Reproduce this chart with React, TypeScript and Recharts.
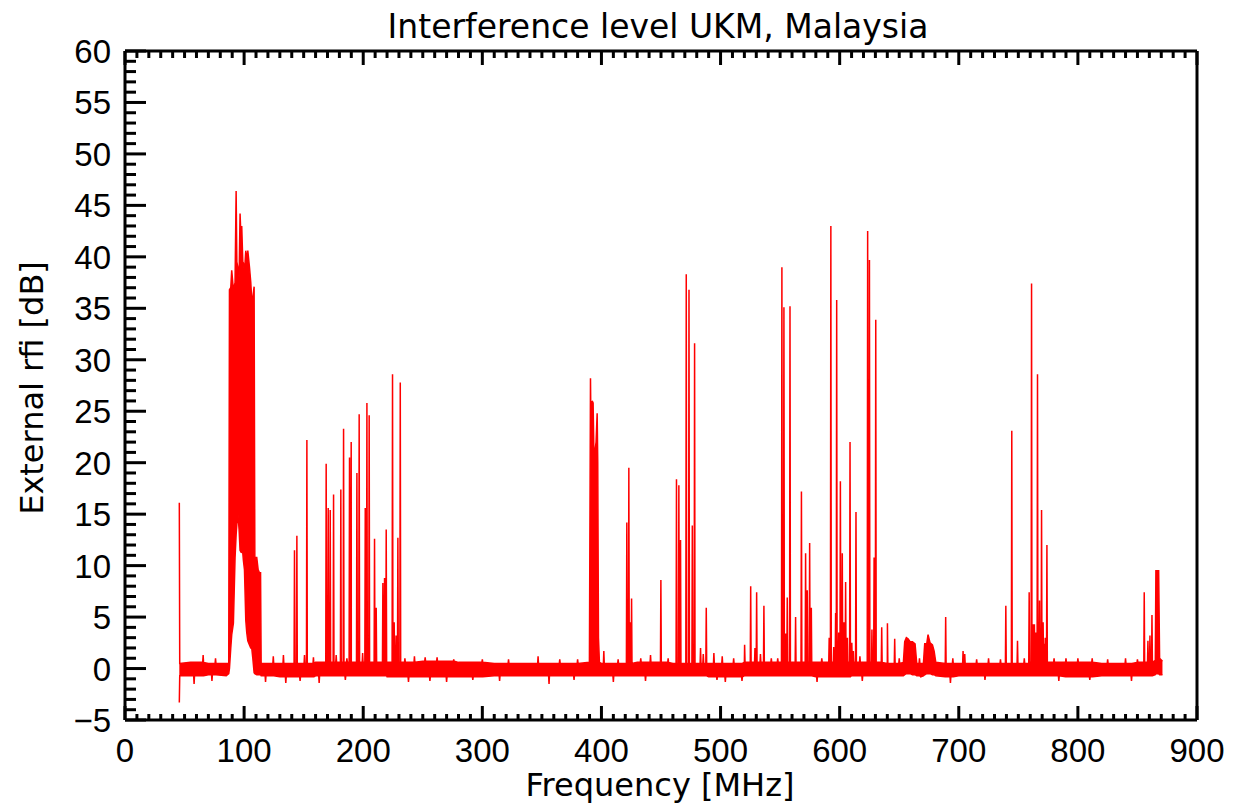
import React from "react";
import { AreaChart, Area, XAxis, YAxis } from "recharts";

// noise floor envelope (MHz, dB)
const floorFreq = [45.6, 55, 70, 85, 114.5, 130, 160, 190, 220, 250, 280, 310, 340, 370, 400, 430, 460, 490, 520, 550, 580, 610, 640, 668, 700, 730, 760, 790, 820, 850, 871];
const floorLow = [-0.7, -0.7, -0.6, -0.7, -0.7, -0.8, -0.7, -0.7, -0.8, -0.8, -0.8, -0.7, -0.7, -0.7, -0.7, -0.7, -0.7, -0.8, -0.7, -0.7, -0.8, -0.7, -0.7, -0.8, -0.7, -0.7, -0.7, -0.8, -0.7, -0.7, -0.6];
const floorHigh = [0.5, 0.6, 0.5, 0.5, 0.5, 0.5, 0.6, 0.6, 0.6, 0.7, 0.6, 0.5, 0.5, 0.5, 0.5, 0.6, 0.5, 0.5, 0.6, 0.6, 0.6, 0.6, 0.5, 0.5, 0.5, 0.5, 0.6, 0.6, 0.5, 0.6, 0.7];

// FM broadcast block
const fmFreq = [87.1, 87.7, 88.8, 89.6, 91.0, 92.4, 93.3, 93.9, 94.7, 95.8, 96.6, 97.5, 98.0, 98.9, 99.4, 100.3, 101.4, 102.2, 103.1, 104.5, 105.6, 106.4, 107.3, 108.4, 109.0, 110.6, 111.8, 112.9, 113.8, 114.3];
const fmLow = [-0.5, 0, 2, 3.3, 4.4, 10.8, 13, 14, 15.2, 13.5, 11.5, 11.3, 11.3, 11.2, 10.5, 9.6, 4.7, 3.5, 2.7, 2.3, 2, 2, 1, -0.4, -0.5, -0.6, -0.6, -0.6, -0.6, -0.7];
const fmHigh = [0.5, 36.8, 37, 38.7, 36.8, 37.5, 46.4, 39.5, 39, 38, 44.2, 41.5, 43, 39.5, 39.4, 38.5, 40.6, 39.5, 40.6, 39, 37.5, 35.8, 36, 37.1, 10.8, 10.8, 9.6, 9.3, 9.3, 0.5];

// cluster near 390 MHz
const uhfFreq = [389.9, 390.8, 391.3, 392.2, 393.0, 393.6, 394.7, 395.5, 396.4, 396.9, 397.5, 398.3];
const uhfLow = [-0.7, -0.7, -0.7, -0.7, -0.7, -0.7, -0.7, -0.7, -0.7, -0.7, -0.7, -0.7];
const uhfHigh = [0.6, 28.2, 22, 26.0, 25.8, 21.3, 21.3, 22, 24.8, 20, 3, 0.6];

// small raised blocks
const blkAFreq = [653.5, 654.6, 656.0, 657.4, 659.1, 661.1, 663.3, 664.7];
const blkALow = [-0.7, -0.6, -0.5, -0.5, -0.5, -0.6, -0.6, -0.7];
const blkAHigh = [0.6, 2.6, 3.0, 2.9, 2.6, 2.6, 2.4, 0.5];
const blkBFreq = [670.3, 671.4, 673.1, 674.2, 675.9, 677.9, 679.3, 680.7];
const blkBLow = [-0.7, -0.6, -0.5, -0.5, -0.5, -0.6, -0.6, -0.7];
const blkBHigh = [0.5, 2.4, 2.4, 3.3, 2.5, 2.3, 1.7, 0.6];
const blkCFreq = [865.0, 865.5, 867.0, 867.8, 868.6];
const blkCLow = [-0.6, -0.5, -0.5, -0.5, -0.6];
const blkCHigh = [0.8, 9.5, 9.5, 9.5, 1];

// narrow spikes
const spikeFreq = [45.6, 65.6, 76, 124.5, 133, 142.3, 144.3, 150.7, 152.7, 158.2, 168.9, 170.6, 172.3, 175.1, 177.3, 181.2, 183.5, 186.3, 188.5, 189.9, 194.7, 196.6, 199.5, 201.7, 203.1, 205, 209.5, 210.9, 216.5, 217.9, 219.3, 224.6, 226.0, 227.6, 229.1, 231.1, 235, 243, 252, 262, 276, 300, 322, 346.8, 365, 380, 402, 414, 421.3, 423, 424.3, 425.3, 433, 441.2, 449.9, 456, 463, 465, 466.4, 471.2, 473.5, 476.3, 478.2, 483.2, 485.5, 488, 494.4, 501.4, 511, 520.2, 525.3, 528.9, 530.3, 533.5, 536.4, 542.6, 548, 551.5, 553.2, 554.6, 556, 558.3, 563, 567.9, 571.4, 572.8, 574.8, 576.2, 585, 591.2, 592.6, 595.0, 596.6, 597.5, 599.2, 600.6, 602.2, 603.6, 605, 606.5, 608.7, 610.2, 611.5, 613.7, 617, 623.5, 625, 627.1, 628.9, 630.3, 635.3, 640.1, 646.2, 650, 667, 689, 695, 703.6, 705, 715, 725, 735, 739.5, 744.5, 749.3, 755, 759.1, 761.1, 762.5, 763.5, 764.7, 766.1, 767.8, 769.5, 770.8, 771.8, 772.6, 774, 780, 790, 800, 812, 825, 840, 850, 855.7, 858.8, 860.5, 862.2];
const spikePeak = [16.1, 1.3, 1.0, 1.2, 1.3, 11.5, 12.9, 1.3, 22.2, 1.1, 19.9, 15.6, 15.4, 16.9, 1.3, 17.4, 23.3, 1.0, 20.5, 22, 19, 24.7, 1.5, 15.6, 25.8, 24.6, 12.6, 5.9, 8.3, 8.8, 13.5, 28.6, 4.5, 3.2, 12.7, 27.8, 1.0, 1.2, 1.1, 1.1, 0.9, 0.9, 0.9, 1.2, 0.9, 0.9, 1.7, 0.9, 14.2, 19.5, 4.5, 6.8, 1.0, 1.3, 8.6, 1.0, 18.4, 17.8, 12.5, 38.3, 36.8, 13.9, 31.6, 2, 1.4, 5.9, 1.5, 1.2, 1.0, 2.3, 8.0, 2, 7.4, 1.4, 6.1, 1.0, 1.0, 39, 35.1, 3.4, 6.9, 35.2, 5, 17.2, 11.2, 7.6, 12.2, 5.9, 1.0, 3, 43, 2.1, 5.4, 35.8, 3.5, 18.2, 11.2, 4.5, 8.4, 3, 22, 2.5, 1.7, 15.2, 1.2, 42.5, 39.7, 3.8, 10.8, 33.9, 4, 4.4, 2.9, 1.0, 1.0, 5, 1.0, 1.7, 1.4, 0.9, 1.0, 0.9, 6.1, 23.1, 2.7, 1.0, 7.4, 37.4, 4.3, 4.3, 3.5, 28.6, 6.6, 15.4, 4.5, 2.4, 3, 12, 1.0, 1.0, 1.0, 1.0, 0.9, 1.0, 0.9, 7.4, 2.7, 3.2, 5.2];

// downward noise dips
const dipFreq = [45.6, 58, 73, 118, 135, 147, 163, 185, 238, 256, 270, 292, 314.5, 356, 377, 410, 437, 497, 504, 518, 581, 619, 693, 722, 784, 810, 845];
const dipLow = [-3.3, -1.5, -1.2, -1.3, -1.4, -1.2, -1.4, -1.1, -1.3, -1.2, -1.3, -1.1, -1.2, -1.5, -1.1, -1.3, -1.2, -1.1, -1.3, -1.2, -1.3, -1.2, -1.4, -1.1, -1.2, -1.1, -1.2];

const xTicks = Array.from({ length: 91 }, (_, i) => i * 10);
const yTicks = Array.from({ length: 66 }, (_, i) => i - 5);

const HALF = 0.35;
const bands: number[][][] = [
  [fmFreq, fmLow, fmHigh],
  [uhfFreq, uhfLow, uhfHigh],
  [blkAFreq, blkALow, blkAHigh],
  [blkBFreq, blkBLow, blkBHigh],
  [blkCFreq, blkCLow, blkCHigh],
];

function floorAt(f: number): [number, number] {
  let i = 0;
  while (i + 1 < floorFreq.length && floorFreq[i + 1] <= f) i++;
  return [floorLow[i], floorHigh[i]];
}

function buildRows() {
  const start = floorFreq[0];
  const end = floorFreq[floorFreq.length - 1];
  const inBand = (f: number) => bands.some(([fr]) => f >= fr[0] && f <= fr[fr.length - 1]);
  const events = new Map<number, [number, number]>();
  spikeFreq.forEach((f, i) => {
    const e = events.get(f) ?? floorAt(f);
    events.set(f, [e[0], spikePeak[i]]);
  });
  dipFreq.forEach((f, i) => {
    const e = events.get(f) ?? floorAt(f);
    events.set(f, [dipLow[i], e[1]]);
  });
  const rows: { f: number; env: [number, number] }[] = [];
  floorFreq.forEach((f, i) => {
    if (!inBand(f) && !events.has(f)) rows.push({ f, env: [floorLow[i], floorHigh[i]] });
  });
  bands.forEach(([fr, lo, hi]) => fr.forEach((f, i) => rows.push({ f, env: [lo[i], hi[i]] })));
  events.forEach((e, f) => {
    const fl = floorAt(f);
    if (f - HALF >= start) rows.push({ f: f - HALF, env: fl });
    rows.push({ f, env: e });
    if (f + HALF <= end) rows.push({ f: f + HALF, env: fl });
  });
  rows.sort((a, b) => a.f - b.f);
  return rows;
}

const data = buildRows();

const TICK_FONT = "'Liberation Sans', Arial, sans-serif";
const TITLE_FONT = "'DejaVu Sans', sans-serif";
const fmt = (v: number) => (v < 0 ? "\u2212" + Math.abs(v) : String(v));

function makeTick(side: "bottom" | "top" | "left" | "right", step: number, major: number, minor: number) {
  return (props: any) => {
    const { x, y, payload } = props;
    const v = payload.value as number;
    const isMajor = Math.abs(v / step - Math.round(v / step)) < 1e-6;
    const len = isMajor ? major : minor;
    let line;
    if (side === "bottom") line = <line x1={x} y1={y} x2={x} y2={y - len} />;
    else if (side === "top") line = <line x1={x} y1={y} x2={x} y2={y + len} />;
    else if (side === "left") line = <line x1={x} y1={y} x2={x + len} y2={y} />;
    else line = <line x1={x} y1={y} x2={x - len} y2={y} />;
    return (
      <g stroke="#000" strokeWidth={3}>
        {line}
        {isMajor && side === "bottom" && (
          <text x={x} y={y + 42} textAnchor="middle" stroke="none" fill="#000" fontSize={33} fontFamily={TICK_FONT}>
            {fmt(v)}
          </text>
        )}
        {isMajor && side === "left" && (
          <text x={x - 14} y={y + 12} textAnchor="end" stroke="none" fill="#000" fontSize={33} fontFamily={TICK_FONT}>
            {fmt(v)}
          </text>
        )}
      </g>
    );
  };
}

const axisLine = { stroke: "#000", strokeWidth: 3 };

export default function App() {
  return (
    <div style={{ position: "absolute", left: 0, top: 0, width: 1236, height: 809, background: "#fff" }}>
      <AreaChart width={1236} height={809} data={data} margin={{ top: 0, right: 0, bottom: 0, left: 0 }}>
        <XAxis dataKey="f" type="number" domain={[0, 900]} ticks={xTicks} interval={0} height={89}
          axisLine={axisLine} tickLine={false} tickSize={0} tickMargin={0} tick={makeTick("bottom", 100, 14, 6)} />
        <XAxis xAxisId="top" orientation="top" dataKey="f" type="number" domain={[0, 900]} ticks={xTicks} interval={0} height={51}
          axisLine={axisLine} tickLine={false} tickSize={0} tickMargin={0} tick={makeTick("top", 100, 14, 7)} />
        <YAxis type="number" domain={[-5, 60]} ticks={yTicks} interval={0} width={125} allowDataOverflow
          axisLine={axisLine} tickLine={false} tickSize={0} tickMargin={0} tick={makeTick("left", 5, 21, 11)} />
        <YAxis yAxisId="right" orientation="right" type="number" domain={[-5, 60]} ticks={yTicks} interval={0} width={39}
          axisLine={axisLine} tickLine={false} tickSize={0} tickMargin={0} tick={makeTick("right", 5, 21, 11)} />
        <Area dataKey="env" type="linear" stroke="#ff0000" strokeWidth={1.5} fill="#ff0000" fillOpacity={1}
          dot={false} activeDot={false} isAnimationActive={false} />
      </AreaChart>
      <div style={{ position: "absolute", left: 0, width: 1236, top: 8, textAlign: "center", paddingLeft: 80, boxSizing: "border-box",
        fontFamily: TITLE_FONT, fontSize: 33, lineHeight: "38px" }}>
        Interference level UKM, Malaysia
      </div>
      <div style={{ position: "absolute", left: 0, width: 1236, top: 766, textAlign: "center", paddingLeft: 84, boxSizing: "border-box",
        fontFamily: TITLE_FONT, fontSize: 32, lineHeight: "38px" }}>
        Frequency [MHz]
      </div>
      <div style={{ position: "absolute", left: 32, top: 388, width: 0, height: 0 }}>
        <div style={{ position: "absolute", left: -200, top: -19, width: 400, textAlign: "center", transform: "rotate(-90deg)",
          fontFamily: TITLE_FONT, fontSize: 32, lineHeight: "38px", whiteSpace: "nowrap" }}>
          External rfi [dB]
        </div>
      </div>
    </div>
  );
}
